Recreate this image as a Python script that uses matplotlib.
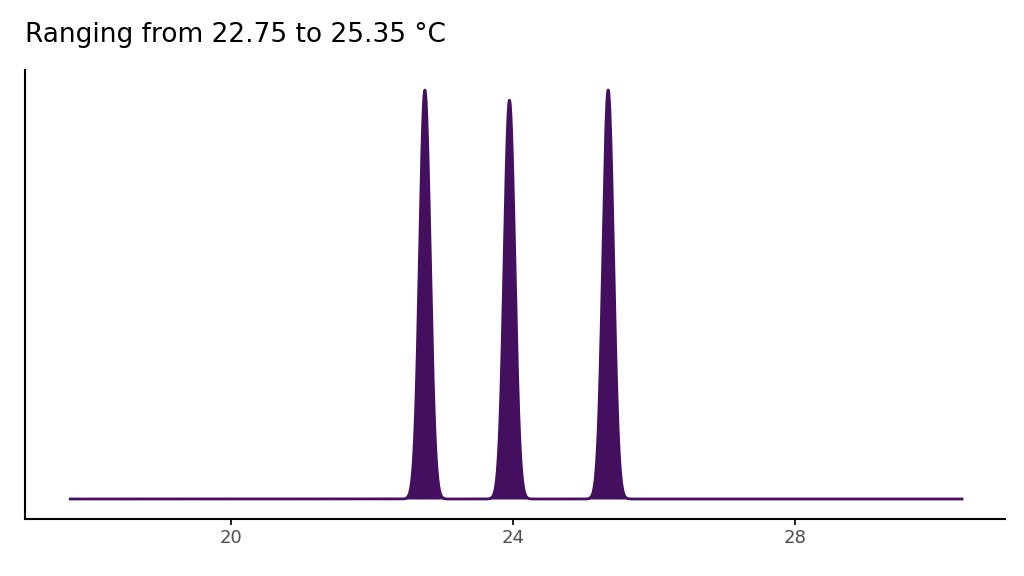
import numpy as np
import matplotlib.pyplot as plt

# observed temperatures (°C) and relative weights
temps = [22.75, 23.95, 25.35]
weights = [1.0, 0.975, 1.0]
x_min, x_max = 17.72, 30.37
bw = 0.075
fill_col = '#440F5E'

x = np.linspace(x_min, x_max, 3000)
dens = np.zeros_like(x)
for t, w in zip(temps, weights):
    dens += w * np.exp(-0.5 * ((x - t) / bw) ** 2)
dens /= (bw * np.sqrt(2 * np.pi) * len(temps))

fig = plt.figure(figsize=(10.24, 5.76), dpi=100)
ax = fig.add_axes([25 / 1024, 57 / 576, 980 / 1024, 449 / 576])
ax.fill_between(x, 0, dens, color=fill_col, lw=0)
ax.plot(x, dens, color=fill_col, lw=2)

peak = dens.max()
ax.set_ylim(-peak * 20 / 409, peak * (1 + 20 / 409))
ax.set_xlim(20 - 206 / 70.5, 28 + 210 / 70.5)
ax.set_xticks([20, 24, 28])
ax.set_yticks([])
ax.tick_params(axis='x', labelsize=13, labelcolor='#4D4D4D', length=4, width=1.2)
for s in ['top', 'right']:
    ax.spines[s].set_visible(False)
for s in ['left', 'bottom']:
    ax.spines[s].set_linewidth(1.5)

fig.text(25 / 1024, 1 - 35 / 576, 'Ranging from 22.75 to 25.35 °C', fontsize=19,
         va='center', ha='left')
fig.savefig('out.png', dpi=100)
